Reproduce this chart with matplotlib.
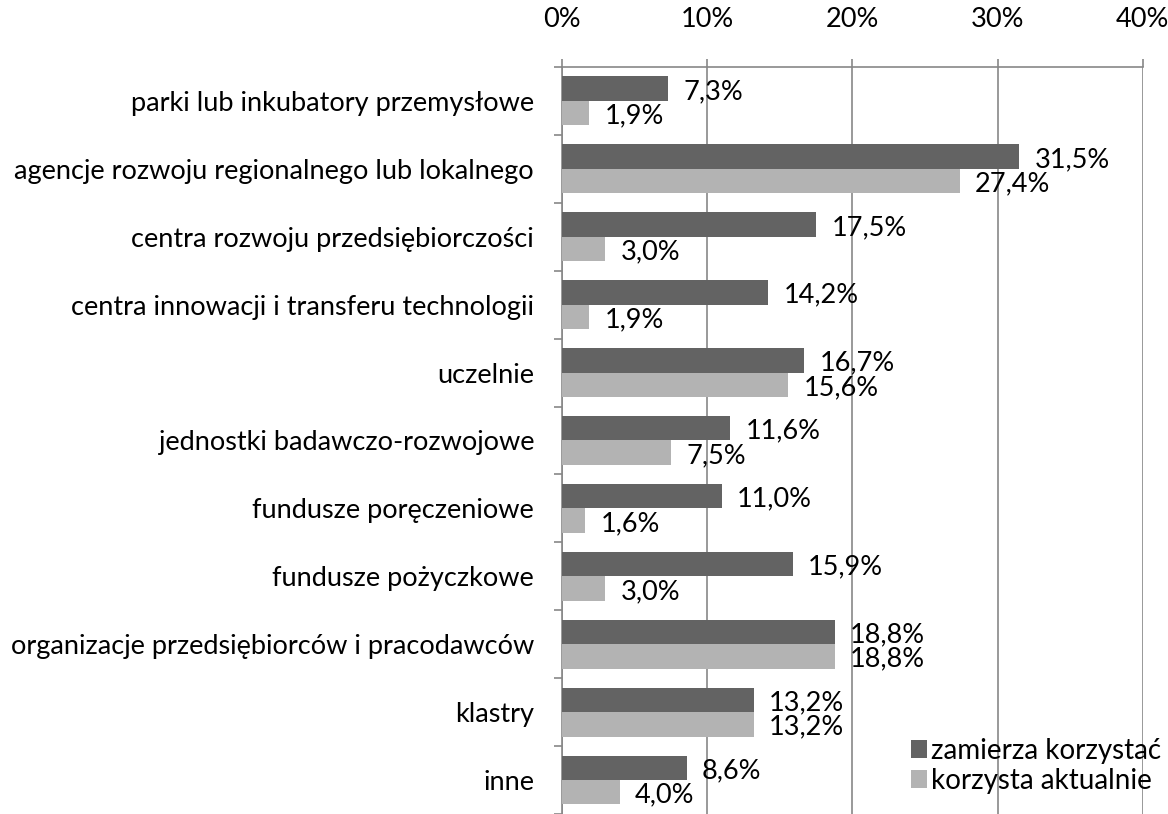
import matplotlib
matplotlib.use("Agg")
import matplotlib.pyplot as plt
import numpy as np

plt.rcParams['font.family'] = ['Lato', 'DejaVu Sans']

categories = [
    "parki lub inkubatory przemysłowe",
    "agencje rozwoju regionalnego lub lokalnego",
    "centra rozwoju przedsiębiorczości",
    "centra innowacji i transferu technologii",
    "uczelnie",
    "jednostki badawczo-rozwojowe",
    "fundusze poręczeniowe",
    "fundusze pożyczkowe",
    "organizacje przedsiębiorców i pracodawców",
    "klastry",
    "inne",
]
zamierza = [7.3, 31.5, 17.5, 14.2, 16.7, 11.6, 11.0, 15.9, 18.8, 13.2, 8.6]
korzysta = [1.9, 27.4, 3.0, 1.9, 15.6, 7.5, 1.6, 3.0, 18.8, 13.2, 4.0]
series_names = ["zamierza korzystać", "korzysta aktualnie"]
x_ticks = [0, 10, 20, 30, 40]

dark = "#636363"
light = "#b3b3b3"
grid_col = "#878787"

fig = plt.figure(figsize=(11.68, 8.14), dpi=100)
ax = fig.add_axes([0.481, 0.0, 0.4975, 0.9177])

y = np.arange(len(categories))
h = 0.36
b1 = ax.barh(y - h / 2, zamierza, height=h, color=dark, label=series_names[0], zorder=3)
b2 = ax.barh(y + h / 2, korzysta, height=h, color=light, label=series_names[1], zorder=3)

fs = 19.5
for bars, vals in ((b1, zamierza), (b2, korzysta)):
    for bar, v in zip(bars, vals):
        ax.annotate(f"{v:.1f}%".replace(".", ","),
                    (bar.get_width(), bar.get_y() + bar.get_height() / 2),
                    xytext=(11, -2), textcoords="offset points",
                    va="center", ha="left", fontsize=fs, color="black", zorder=4)

ax.set_xlim(0, 40)
ax.set_ylim(len(categories) - 0.5, -0.5)
ax.xaxis.tick_top()
ax.set_xticks(x_ticks)
ax.set_xticklabels([f"{t}%" for t in x_ticks], fontsize=fs)
ax.tick_params(axis="x", length=6, width=1.2, color=grid_col, pad=19)
ax.grid(axis="x", color=grid_col, linewidth=1.2, zorder=0)

ax.set_yticks(y)
ax.set_yticklabels(categories, fontsize=fs)
ax.tick_params(axis="y", length=0, pad=20)
ax.set_yticks(np.arange(len(categories) + 1) - 0.5, minor=True)
ax.tick_params(axis="y", which="minor", length=6, width=1.2, color=grid_col)

for side in ("right", "bottom"):
    ax.spines[side].set_visible(False)
for side in ("top", "left"):
    ax.spines[side].set_color(grid_col)
    ax.spines[side].set_linewidth(1.2)

ax.legend(loc="lower right", bbox_to_anchor=(1.05, 0.012), frameon=False,
          fontsize=20, handlelength=0.55, handleheight=0.6, handletextpad=0.15,
          labelspacing=0.15, borderaxespad=0.0)

fig.savefig("out.png", dpi=100)
